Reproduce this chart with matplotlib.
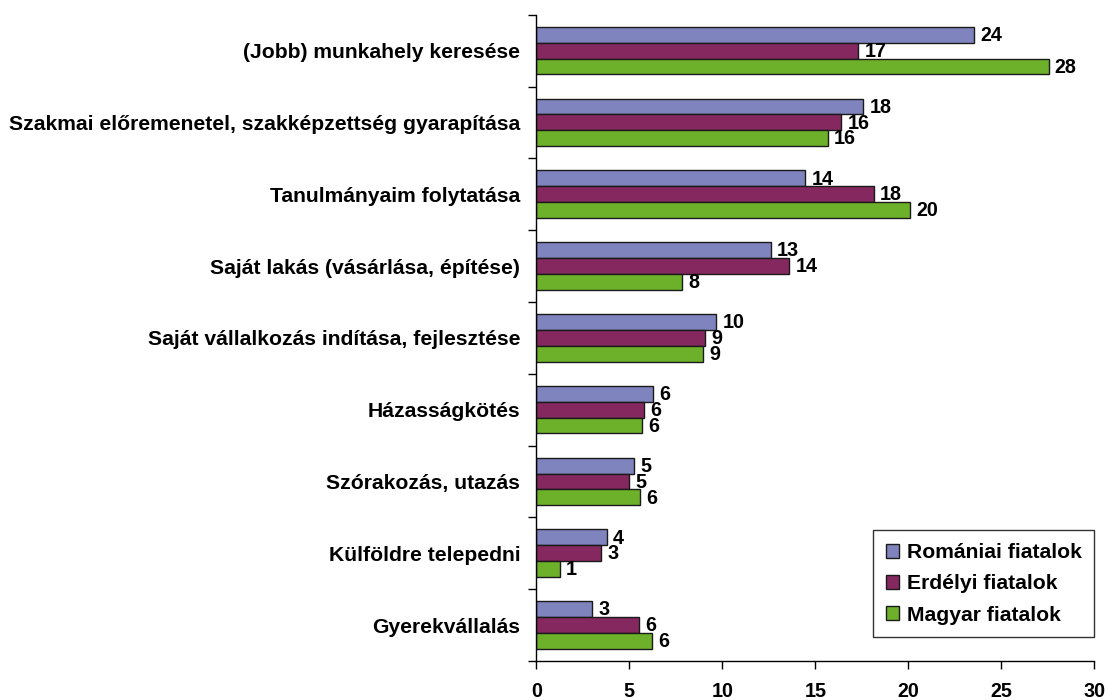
import matplotlib
matplotlib.use("Agg")
import matplotlib.pyplot as plt
import numpy as np

categories = [
    "(Jobb) munkahely keresése",
    "Szakmai előremenetel, szakképzettség gyarapítása",
    "Tanulmányaim folytatása",
    "Saját lakás (vásárlása, építése)",
    "Saját vállalkozás indítása, fejlesztése",
    "Házasságkötés",
    "Szórakozás, utazás",
    "Külföldre telepedni",
    "Gyerekvállalás",
]
series_names = ["Romániai fiatalok", "Erdélyi fiatalok", "Magyar fiatalok"]
romaniai = [23.54, 17.58, 14.45, 12.6, 9.67, 6.26, 5.25, 3.79, 3.0]
erdelyi = [17.31, 16.39, 18.14, 13.6, 9.09, 5.81, 5.0, 3.49, 5.5]
magyar = [27.54, 15.68, 20.08, 7.85, 8.97, 5.69, 5.59, 1.27, 6.2]
colors = ["#8084BE", "#85285F", "#6DB02A"]
xticks = [0, 5, 10, 15, 20, 25, 30]

plt.rcParams['font.family'] = ['Liberation Sans', 'DejaVu Sans']
plt.rcParams['font.weight'] = 'bold'

fig = plt.figure(figsize=(11.09, 7.0), dpi=100)
ax = fig.add_axes([536.3 / 1109, (700 - 661) / 700, (1094.3 - 536.3) / 1109, (661 - 14.7) / 700])

n = len(categories)
y = np.arange(n)
h = 0.221
data = [romaniai, erdelyi, magyar]
for i, (vals, col, name) in enumerate(zip(data, colors, series_names)):
    pos = y + (i - 1) * h
    bars = ax.barh(pos, vals, height=h, color=col, edgecolor="#1a1a1a", linewidth=1.0, label=name)
    for b, v in zip(bars, vals):
        ax.annotate(str(int(v + 0.5)), xy=(v, b.get_y() + b.get_height() / 2),
                    xytext=(4.5, -0.5), textcoords="offset points", ha="left", va="center",
                    fontsize=14.2, fontweight="bold")

ax.set_ylim(n - 0.5, -0.5)
ax.set_xlim(0, 30)
ax.set_xticks(xticks)
ax.set_xticklabels([str(t) for t in xticks], fontsize=14.2, fontweight="bold")
ax.set_yticks(y)
ax.set_yticklabels(categories, fontsize=15.2, fontweight="bold")
ax.set_yticks(np.arange(n + 1) - 0.5, minor=True)
ax.tick_params(axis="y", which="major", length=0, pad=11.5)
ax.tick_params(axis="y", which="minor", length=6, width=1, direction="out")
ax.tick_params(axis="x", which="major", length=6, width=1, direction="out", pad=9)
for s in ["top", "right"]:
    ax.spines[s].set_visible(False)
for s in ["left", "bottom"]:
    ax.spines[s].set_linewidth(1.0)

leg = ax.legend(loc="lower right", bbox_to_anchor=(1.0, (661 - 637.3) / (661 - 14.7)),
                frameon=True, fancybox=False, edgecolor="black", fontsize=15.2,
                handlelength=0.63, handleheight=0.63, handletextpad=0.35,
                labelspacing=0.58, borderpad=0.6, borderaxespad=0)
leg.get_frame().set_linewidth(1.0)
for t in leg.get_texts():
    t.set_fontweight("bold")

fig.savefig("out.png", dpi=100)
